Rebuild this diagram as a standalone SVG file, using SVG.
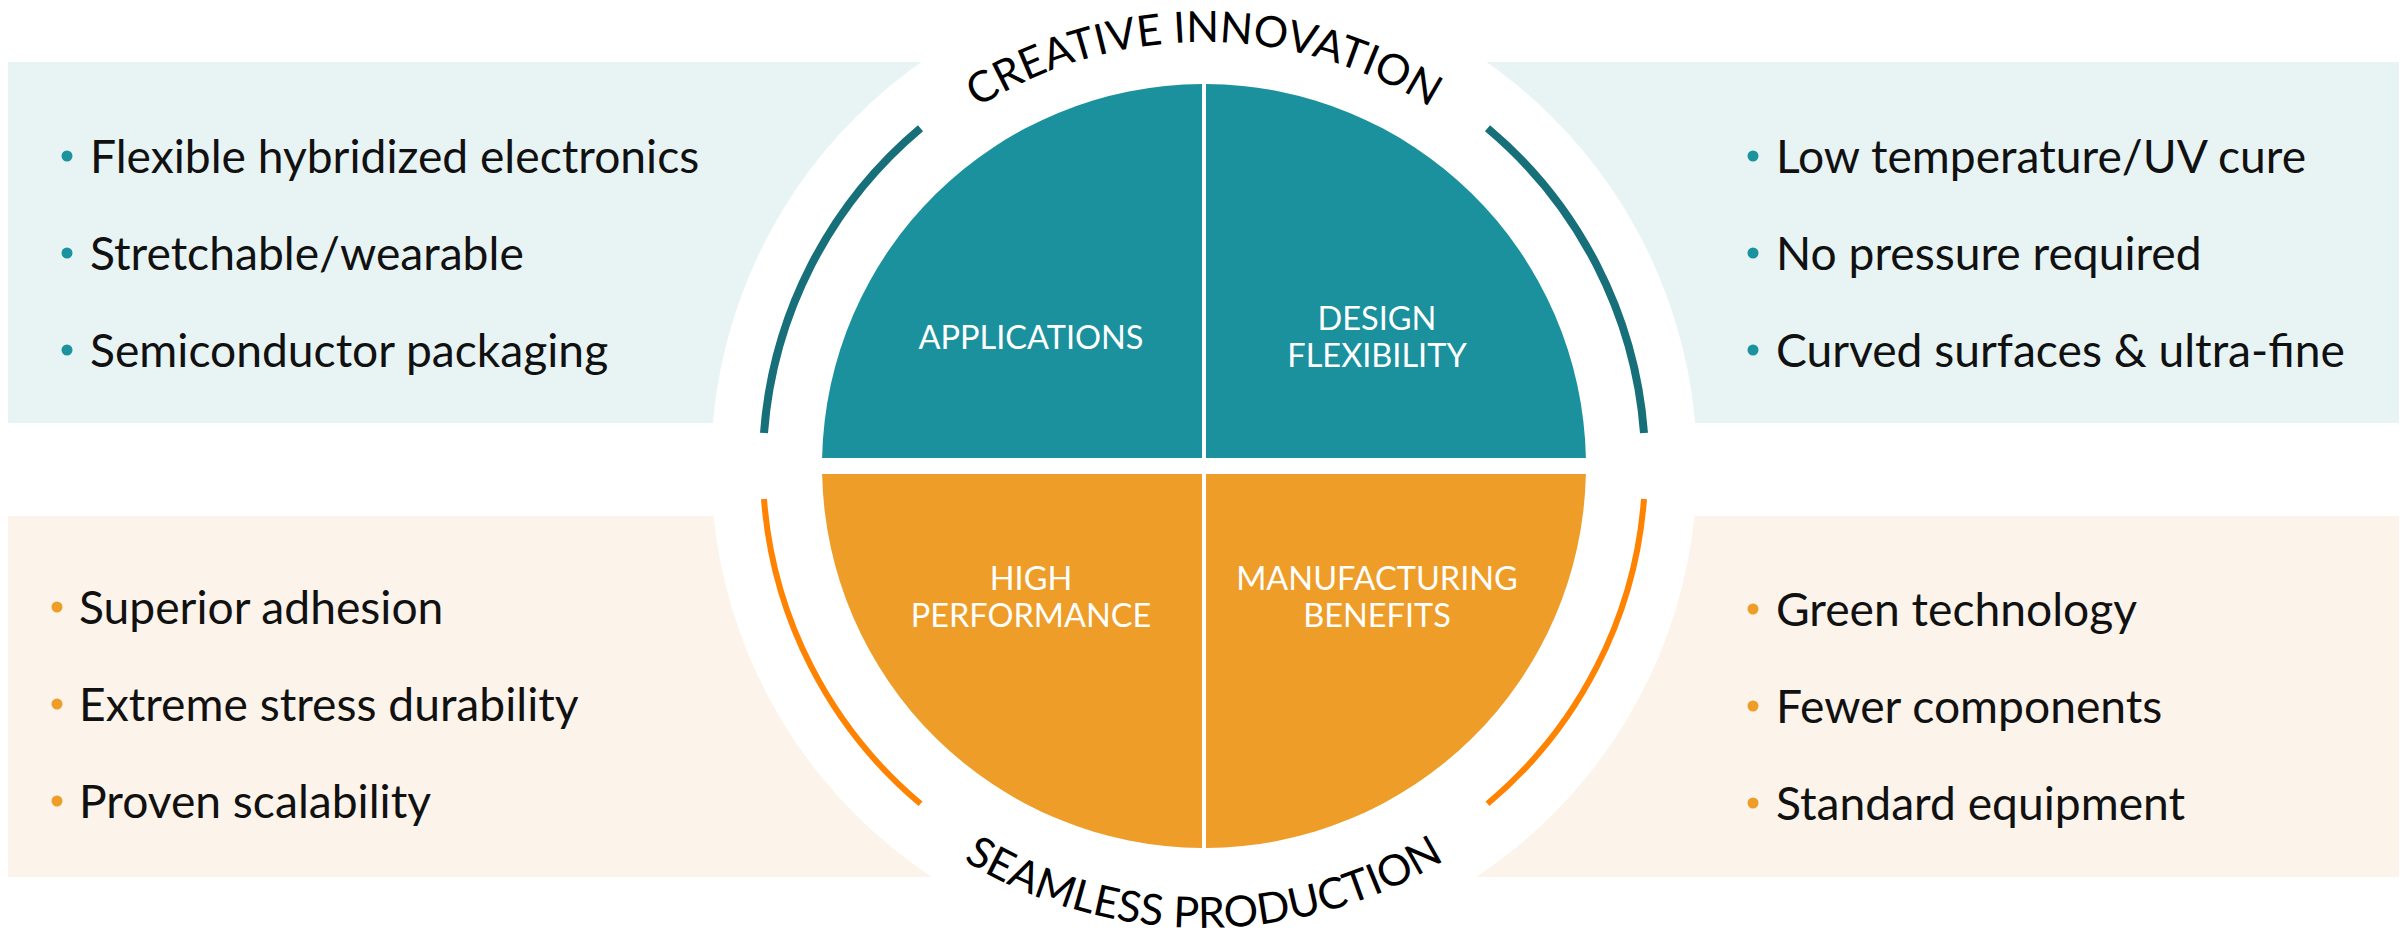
<svg xmlns="http://www.w3.org/2000/svg" width="2407" height="935" viewBox="0 0 2407 935">
  <style>
    .item { font-family: Lato, "Liberation Sans", sans-serif; font-size: 46.2px; fill: #111; }
    .lbl { font-family: Lato, "Liberation Sans", sans-serif; font-size: 32.5px; fill: #fff; text-anchor: middle; }
    .arc-title { font-family: Lato, "Liberation Sans", sans-serif; font-size: 43px; fill: #000; }
    .dot-t { fill: #1b939f; }
    .dot-o { fill: #ee9d28; }
  </style>
  <defs>
    <path id="topArc" d="M 780,466 A 424 424 0 0 1 1628,466"/>
    <path id="botArc" d="M 742,466 A 462 462 0 0 0 1666,466"/>
  </defs>
  <rect width="2407" height="935" fill="#fff"/>

  <g id="panel-top-left">
    <rect x="8" y="62" width="1196" height="361" fill="#e8f4f4"/>
  </g>
  <g id="panel-top-right">
    <rect x="1204" y="62" width="1195" height="361" fill="#e8f4f4"/>
  </g>
  <g id="panel-bottom-left">
    <rect x="8" y="516" width="1196" height="361" fill="#fcf4ea"/>
  </g>
  <g id="panel-bottom-right">
    <rect x="1204" y="516" width="1195" height="361" fill="#fcf4ea"/>
  </g>

  <circle cx="1204" cy="466" r="493" fill="#fff"/>

  <g id="connectors" fill="none">
    <path d="M 764,433 A 441 441 0 0 1 920.5,128.2" stroke="#177079" stroke-width="8"/>
    <path d="M 1487.5,128.2 A 441 441 0 0 1 1644,433" stroke="#177079" stroke-width="8"/>
    <path d="M 764,499 A 441 441 0 0 0 920.5,803.8" stroke="#ff8200" stroke-width="6"/>
    <path d="M 1487.5,803.8 A 441 441 0 0 0 1644,499" stroke="#ff8200" stroke-width="6"/>
  </g>

  <g id="applications">
    <path d="M 1202,458 H 822.1 A 382 382 0 0 1 1202,84 Z" fill="#1b919e"/>
    <text class="lbl" x="1031" y="349">APPLICATIONS</text>
  </g>
  <g id="design-flexibility">
    <path d="M 1206,458 H 1585.9 A 382 382 0 0 0 1206,84 Z" fill="#1b919e"/>
    <text class="lbl" x="1377" y="330">DESIGN</text>
    <text class="lbl" x="1377" y="367">FLEXIBILITY</text>
  </g>
  <g id="high-performance">
    <path d="M 1202,474 H 822.1 A 382 382 0 0 0 1202,848 Z" fill="#ee9d28"/>
    <text class="lbl" x="1031" y="590">HIGH</text>
    <text class="lbl" x="1031" y="627">PERFORMANCE</text>
  </g>
  <g id="manufacturing-benefits">
    <path d="M 1206,474 H 1585.9 A 382 382 0 0 1 1206,848 Z" fill="#ee9d28"/>
    <text class="lbl" x="1377" y="590">MANUFACTURING</text>
    <text class="lbl" x="1377" y="627">BENEFITS</text>
  </g>

  <g id="title-creative-innovation">
    <text class="arc-title"><textPath href="#topArc" startOffset="50%" text-anchor="middle">CREATIVE INNOVATION</textPath></text>
  </g>
  <g id="title-seamless-production">
    <text class="arc-title"><textPath href="#botArc" startOffset="50%" text-anchor="middle">SEAMLESS PRODUCTION</textPath></text>
  </g>

  <g id="list-top-left">
    <circle class="dot-t" cx="67" cy="156" r="5.5"/>
    <text class="item" x="90" y="173">Flexible hybridized electronics</text>
    <circle class="dot-t" cx="67" cy="253" r="5.5"/>
    <text class="item" x="90" y="270">Stretchable/wearable</text>
    <circle class="dot-t" cx="67" cy="350" r="5.5"/>
    <text class="item" x="90" y="367">Semiconductor packaging</text>
  </g>
  <g id="list-top-right">
    <circle class="dot-t" cx="1753" cy="156" r="5.5"/>
    <text class="item" x="1776" y="173">Low temperature/UV cure</text>
    <circle class="dot-t" cx="1753" cy="253" r="5.5"/>
    <text class="item" x="1776" y="270">No pressure required</text>
    <circle class="dot-t" cx="1753" cy="350" r="5.5"/>
    <text class="item" x="1776" y="367">Curved surfaces &amp; ultra-fine</text>
  </g>
  <g id="list-bottom-left">
    <circle class="dot-o" cx="57" cy="607" r="5.5"/>
    <text class="item" x="79" y="624">Superior adhesion</text>
    <circle class="dot-o" cx="57" cy="704" r="5.5"/>
    <text class="item" x="79" y="721">Extreme stress durability</text>
    <circle class="dot-o" cx="57" cy="801" r="5.5"/>
    <text class="item" x="79" y="818">Proven scalability</text>
  </g>
  <g id="list-bottom-right">
    <circle class="dot-o" cx="1753" cy="609" r="5.5"/>
    <text class="item" x="1776" y="626">Green technology</text>
    <circle class="dot-o" cx="1753" cy="706" r="5.5"/>
    <text class="item" x="1776" y="723">Fewer components</text>
    <circle class="dot-o" cx="1753" cy="803" r="5.5"/>
    <text class="item" x="1776" y="820">Standard equipment</text>
  </g>
</svg>
